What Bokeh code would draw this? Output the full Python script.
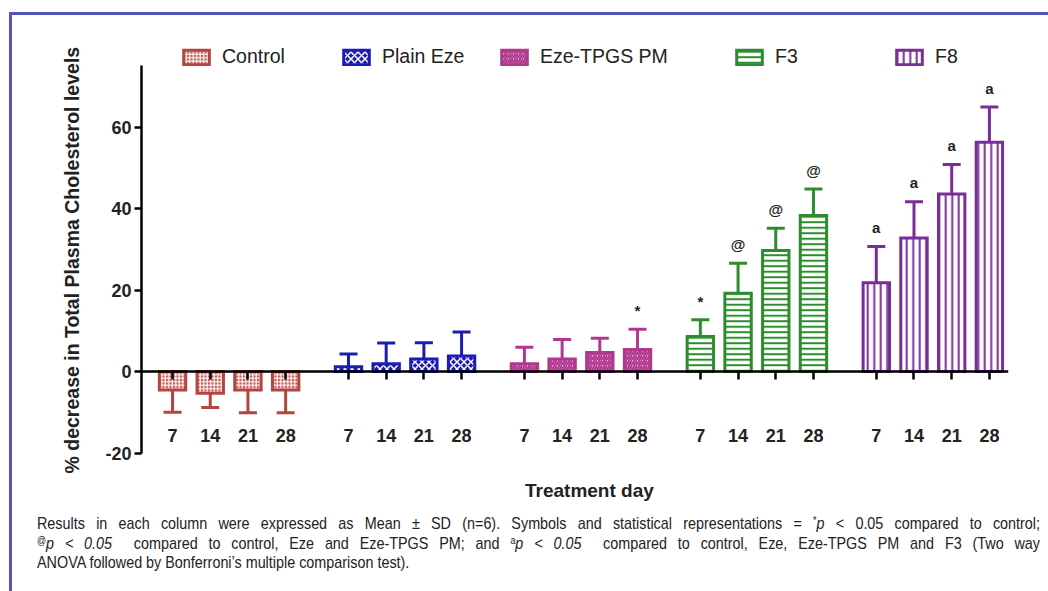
from bokeh.plotting import figure
from bokeh.models import (ColumnDataSource, Whisker, TeeHead, FixedTicker, LinearAxis,
                          Legend, LegendItem, Title, Div, Range1d)
from bokeh.layouts import column
from bokeh.embed import file_html
from bokeh.resources import INLINE
from bokeh.core.properties import value

# ---------------- data ----------------
groups = ["Control", "Plain Eze", "Eze-TPGS PM", "F3", "F8"]
days = ["7", "14", "21", "28"]

control_mean = [-4.5, -5.3, -4.5, -4.5]
control_sd = [5.5, 3.5, 5.6, 5.6]
plain_eze_mean = [1.2, 1.9, 3.1, 3.8]
plain_eze_sd = [3.1, 5.1, 4.0, 5.9]
eze_tpgs_mean = [1.9, 3.1, 4.7, 5.4]
eze_tpgs_sd = [4.1, 4.8, 3.5, 5.0]
f3_mean = [8.6, 19.2, 29.7, 38.3]
f3_sd = [4.1, 7.4, 5.5, 6.5]
f8_mean = [21.8, 32.8, 43.6, 56.3]
f8_sd = [8.9, 8.9, 7.2, 8.6]

control_sym = ["", "", "", ""]
plain_eze_sym = ["", "", "", ""]
eze_tpgs_sym = ["", "", "", "*"]
f3_sym = ["*", "@", "@", "@"]
f8_sym = ["a", "a", "a", "a"]

y_ticks = [-20, 0, 20, 40, 60]
y_tick_labels = ["-20", "0", "20", "40", "60"]

x_title = "Treatment day"
y_title = "% decrease in Total Plasma Cholesterol levels"

# ---------------- styles ----------------
FONT = "Liberation Sans"
STEP = 3          # distance between bars within a group
STRIDE = 14       # distance between groups
styles = [
    dict(line_color="#b3443f", fill_color="#c25752", hatch_pattern="+", hatch_color="white",
         hatch_scale=3.5, hatch_weight=1.2),
    dict(line_color="#1c1cb2", fill_color="#1c1cb2", hatch_pattern="x", hatch_color="white",
         hatch_scale=7, hatch_weight=1.5),
    dict(line_color="#b0388e", fill_color="#e7b4d8", hatch_pattern="/", hatch_color="#b0388e",
         hatch_scale=5, hatch_weight=2),
    dict(line_color="#2e8c2e", fill_color="white", hatch_pattern="-", hatch_color="#2e8c2e",
         hatch_scale=5.5, hatch_weight=2),
    dict(line_color="#7a2d96", fill_color="white", hatch_pattern="|", hatch_color="#7a2d96",
         hatch_scale=6.5, hatch_weight=2),
]
legend_x = [39, 199, 357, 592, 752]

means = [control_mean, plain_eze_mean, eze_tpgs_mean, f3_mean, f8_mean]
sds = [control_sd, plain_eze_sd, eze_tpgs_sd, f3_sd, f8_sd]
syms = [control_sym, plain_eze_sym, eze_tpgs_sym, f3_sym, f8_sym]

p = figure(width=1036, height=463, x_range=Range1d(-2.47, 66.52), y_range=Range1d(-20.1, 83.7),
           output_backend="svg", toolbar_location=None, x_axis_location="above",
           min_border_left=129, min_border_right=40, min_border_top=15, min_border_bottom=25)
p.xgrid.visible = False
p.ygrid.visible = False
p.outline_line_color = None

all_x = []
labels_map = {}
blank_map = {}
for gi in range(len(groups)):
    for di, d in enumerate(days):
        xv = gi * STRIDE + di * STEP
        all_x.append(xv)
        labels_map[xv] = d
        blank_map[xv] = ""

for gi, g in enumerate(groups):
    xs = [gi * STRIDE + di * STEP for di in range(len(days))]
    m = means[gi]
    s = sds[gi]
    tip = [mv + sv if mv >= 0 else mv - sv for mv, sv in zip(m, s)]
    sym_y = [t + 2.5 for t in tip]
    src = ColumnDataSource(dict(x=xs, top=m, tip=tip, sym=syms[gi], sym_y=sym_y))
    st = styles[gi]
    r = p.vbar(x="x", top="top", bottom=0, width=2.1, source=src, line_width=3,
               line_join="miter", **st)
    w = Whisker(source=src, base="x", lower="top", upper="tip", dimension="height",
                line_color=st["line_color"], line_width=3, lower_head=None,
                upper_head=TeeHead(size=18, line_color=st["line_color"], line_width=3))
    p.add_layout(w)
    p.text(x="x", y="sym_y", text="sym", source=src, text_align="center",
           text_baseline="bottom", text_font=value(FONT), text_font_size="15px",
           text_font_style="bold", text_color="#222222")
    leg = Legend(items=[LegendItem(label=g, renderers=[r])], location=(legend_x[gi], 385),
                 orientation="horizontal", padding=0, margin=0, border_line_color=None,
                 background_fill_alpha=0, glyph_width=32, glyph_height=18, label_standoff=10,
                 label_text_font=FONT, label_text_font_size="19.5px", label_text_color="#222222")
    p.add_layout(leg)

# x axis at zero (ticks only, pointing down)
xa = p.xaxis[0]
xa.fixed_location = 0
xa.ticker = FixedTicker(ticks=all_x)
xa.major_label_overrides = blank_map
xa.major_label_standoff = 0
xa.major_tick_out = 0
xa.major_tick_in = 8
xa.major_tick_line_width = 2.5
xa.minor_tick_line_color = None
xa.axis_line_width = 2.5
xa.axis_line_color = "black"

# x axis carrying the day labels
xa2 = LinearAxis(fixed_location=-12.6, ticker=FixedTicker(ticks=all_x),
                 major_label_overrides=labels_map, axis_line_color=None,
                 major_tick_line_color=None, minor_tick_line_color=None,
                 major_label_standoff=0, major_label_text_font=FONT,
                 major_label_text_font_size="18px", major_label_text_font_style="bold",
                 major_label_text_color="#222222")
p.add_layout(xa2, "below")

ya = p.yaxis[0]
ya.bounds = (-20, 75)
ya.ticker = FixedTicker(ticks=y_ticks)
ya.major_label_overrides = dict(zip(y_ticks, y_tick_labels))
ya.minor_tick_line_color = None
ya.major_tick_out = 7
ya.major_tick_in = 0
ya.major_tick_line_width = 2.5
ya.axis_line_width = 2.5
ya.axis_line_color = "black"
ya.major_label_text_font = FONT
ya.major_label_text_font_size = "18px"
ya.major_label_text_font_style = "bold"
ya.major_label_text_color = "#222222"
ya.major_label_standoff = 3
p.add_layout(Title(text=y_title, align="left", offset=-20, standoff=40, text_font=FONT,
                   text_font_size="19.5px", text_font_style="bold", text_color="#222222"),
             "left")

just = "text-align:justify;text-align-last:justify;"
sup = '<span style="font-size:62%;vertical-align:0.45em;line-height:0;">'
caption_html = (
    "<div style=\"width:1031px;font-family:'Liberation Sans',Arial,sans-serif;color:#222222;\">"
    '<div style="padding-left:508px;font-size:19px;font-weight:bold;'
    f'line-height:16px;height:16px;white-space:nowrap;">{x_title}</div>'
    '<div style="margin-left:20px;margin-top:9px;padding-top:6px;width:1003px;height:74px;'
    'overflow:hidden;">'
    '<div style="width:1187px;transform:scaleX(0.845);transform-origin:0 0;'
    'font-size:17px;line-height:19.5px;">'
    f'<div style="{just}">Results in each column were expressed as Mean ± SD (n=6). '
    f'Symbols and statistical representations = {sup}*</span><i>p</i> &lt; 0.05 compared to control;</div>'
    f'<div style="{just}">{sup}@</span><i>p &lt; 0.05</i>&nbsp; compared to control, Eze and Eze-TPGS PM; '
    f'and {sup}a</span><i>p &lt; 0.05</i>&nbsp; compared to control, Eze, Eze-TPGS PM and F3 (Two way</div>'
    '<div>ANOVA followed by Bonferroni’s multiple comparison test).</div>'
    '</div></div></div>'
)
cap = Div(text=caption_html, width=1031, height=108)

layout = column(p, cap, styles={"margin-left": "9px", "margin-top": "12px",
                                "border-left": "3px solid #5256b8",
                                "border-top": "3px solid #5256b8"})

open("out.html", "w").write(file_html(layout, INLINE))
